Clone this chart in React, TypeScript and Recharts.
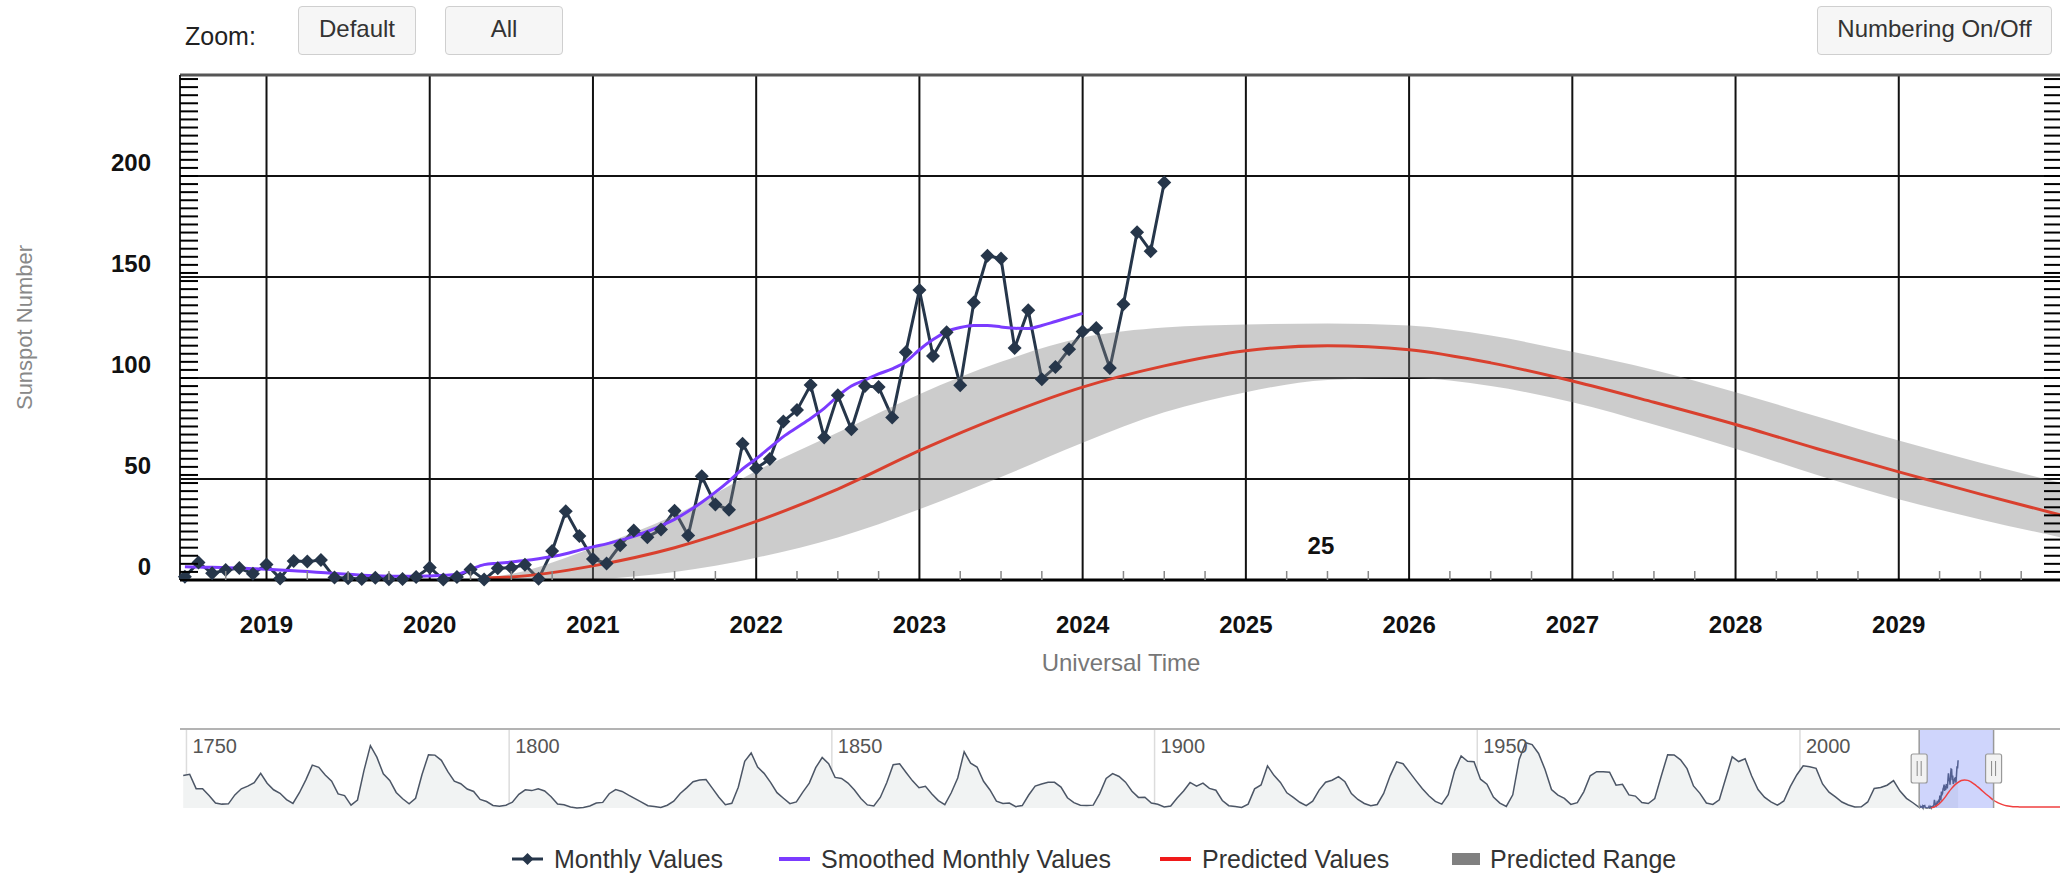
import React from "react";
import {
  ComposedChart,
  Line,
  Area,
  XAxis,
  YAxis,
  CartesianGrid,
  ReferenceLine,
  ReferenceDot,
  ReferenceArea,
  Label,
} from "recharts";

// monthly sunspot numbers, Jul 2018 .. Jul 2024
const monthlyStart = 2018.5;
const monthlyValues = [
  1.6, 8.7, 3.3, 4.9, 5.9, 3.1,
  7.7, 0.8, 9.4, 9.1, 9.9, 1.2, 0.9, 0.5, 1.1, 0.4, 0.5, 1.5,
  6.2, 0.2, 1.5, 5.2, 0.2, 5.8, 6.1, 7.5, 0.6, 14.4, 34.0, 21.8,
  10.4, 8.2, 17.2, 24.5, 21.2, 25.0, 34.3, 22.0, 51.3, 37.4, 34.8, 67.5,
  55.3, 59.9, 78.5, 84.1, 96.5, 70.5, 91.4, 74.6, 96.0, 95.5, 80.5, 112.8,
  143.6, 110.9, 122.6, 96.4, 137.4, 160.5, 159.1, 114.8, 133.6, 99.4, 105.4, 114.2,
  123.0, 124.7, 104.9, 136.5, 172.1, 162.8, 196.8,
];

// smoothed monthly values, Jul 2018 .. Jan 2024
const smoothedValues = [
  6.5, 6.4, 6.3, 6.1, 5.9, 5.6,
  5.3, 5.0, 4.6, 4.2, 3.7, 3.2, 2.8, 2.4, 2.1, 1.9, 1.8, 1.8,
  2.0, 2.3, 2.8, 5.2, 7.6, 8.3, 8.9, 9.6, 10.5, 11.6, 13.0, 14.8,
  16.4, 17.9, 19.6, 21.6, 24.0, 26.8, 30.0, 34.0, 38.5, 43.5, 49.0, 55.0,
  60.0, 65.5, 71.0, 75.5, 80.0, 85.0, 91.0, 96.0, 99.0, 102.0, 104.5, 108.0,
  114.0, 119.0, 123.0, 125.0, 126.0, 126.0, 125.3, 124.6, 124.5, 126.0, 128.0, 130.0,
  132.0,
];

// prediction, half-year steps
const predYears = [
  2020.33, 2020.5, 2021, 2021.5, 2022, 2022.5, 2023, 2023.5, 2024, 2024.5, 2025,
  2025.5, 2026, 2026.5, 2027, 2027.5, 2028, 2028.5, 2029, 2029.5, 2030,
];
const predictedValues = [
  1, 1.5, 7, 16, 29, 45, 64, 81, 95.5, 106, 113.5,
  116, 114, 107.5, 98.5, 88, 77, 65, 53.5, 42.5, 32,
];
const rangeLow = [
  0, 0, 0.5, 4, 11, 21, 35, 51, 68, 83, 93,
  99, 100, 96, 88, 77, 65, 52, 40, 30, 21,
];
const rangeHigh = [
  1, 3, 16, 32, 54, 73, 92, 108, 120, 125, 126.5,
  127, 126, 121, 113, 104, 93, 81, 69, 58, 48,
];
// prediction beyond the main window (navigator only)
const tailYears = [2030.5, 2031, 2031.5, 2032, 2032.5, 2033, 2034, 2035, 2036, 2037, 2038, 2039, 2040, 2040.5];
const tailValues = [24, 18, 13, 9.5, 7, 5.5, 4.5, 4, 4, 4, 4, 4, 4, 4];

// yearly mean sunspot number 1749 .. 2017 for the navigator
const historyStart = 1749;
const historyValues = [
  134.0,
  139.0, 79.8, 79.7, 51.2, 20.3, 16.0, 17.0, 54.0, 79.3, 90.0,
  104.8, 143.2, 102.0, 75.2, 60.7, 34.8, 19.0, 63.0, 116.3, 176.8,
  168.0, 136.0, 110.8, 58.0, 51.0, 11.7, 33.0, 154.2, 257.3, 209.8,
  141.3, 113.5, 64.2, 38.0, 17.0, 40.2, 138.2, 220.0, 218.2, 196.8,
  149.8, 111.0, 100.0, 78.2, 68.3, 35.5, 26.7, 10.7, 6.8, 11.3,
  24.2, 56.7, 75.0, 71.8, 79.2, 70.3, 46.8, 16.8, 13.5, 4.2,
  0.0, 2.3, 8.3, 20.3, 23.2, 59.0, 76.3, 68.3, 52.9, 38.5,
  24.2, 9.2, 6.3, 2.2, 11.4, 28.2, 59.9, 83.0, 108.5, 115.2,
  117.4, 80.8, 44.3, 13.4, 19.5, 85.8, 192.7, 227.3, 168.7, 143.0,
  105.5, 63.3, 40.3, 18.1, 25.1, 65.8, 102.7, 166.3, 208.3, 182.5,
  126.3, 122.0, 102.7, 74.1, 39.0, 12.7, 8.2, 43.4, 104.4, 178.3,
  182.2, 146.6, 112.1, 83.5, 89.2, 57.8, 30.7, 13.9, 62.8, 123.6,
  232.0, 185.3, 169.2, 110.1, 74.5, 28.3, 18.9, 20.7, 5.7, 10.0,
  53.7, 90.5, 99.0, 106.1, 105.8, 86.3, 42.4, 21.8, 11.2, 10.4,
  11.8, 59.5, 121.7, 142.0, 130.0, 106.6, 69.4, 43.8, 44.4, 20.2,
  15.7, 4.6, 8.5, 40.8, 70.1, 105.5, 90.1, 102.8, 80.9, 73.2,
  30.9, 9.5, 6.0, 2.4, 16.1, 79.0, 95.0, 173.6, 134.6, 105.7,
  62.7, 43.5, 23.7, 9.7, 27.9, 74.0, 106.5, 114.7, 129.7, 108.2,
  59.4, 35.1, 18.6, 9.2, 14.6, 60.2, 132.8, 190.6, 182.6, 148.0,
  113.0, 79.2, 50.8, 27.1, 16.1, 55.3, 154.3, 214.7, 193.0, 190.7,
  118.9, 98.3, 45.0, 20.1, 6.6, 54.2, 200.7, 269.3, 261.7, 225.1,
  159.0, 76.4, 53.4, 39.9, 15.0, 22.0, 66.8, 132.9, 150.0, 149.4,
  148.0, 94.4, 97.6, 54.1, 49.2, 22.5, 18.4, 39.3, 131.0, 220.1,
  218.9, 198.9, 162.4, 91.0, 60.5, 20.6, 14.8, 33.9, 123.0, 211.1,
  191.8, 203.3, 133.0, 76.1, 44.9, 25.1, 11.6, 28.9, 88.3, 136.3,
  173.9, 170.4, 163.6, 99.3, 65.3, 45.8, 24.7, 12.6, 4.2, 4.8,
  24.9, 80.8, 84.5, 94.0, 113.3, 69.8, 39.8, 21.7,
];

const yearTicks = [2019, 2020, 2021, 2022, 2023, 2024, 2025, 2026, 2027, 2028, 2029];
const quarterTicks = Array.from({ length: 45 }, (_, i) => 2018.75 + i * 0.25);
const yLabelTicks = [0, 50, 100, 150, 200];
const yMinorTicks = Array.from({ length: 63 }, (_, i) => i * 4);
const yTicks = [...yMinorTicks, 50, 150].sort((a, b) => a - b);
const navTicks = [1750, 1800, 1850, 1900, 1950, 2000];

const X_DOMAIN: [number, number] = [2018.47, 2030];
const PLOT_W = 1882;

const monthlyData = monthlyValues.map((v, i) => ({ t: monthlyStart + i / 12, v }));
const smoothedData = smoothedValues.map((v, i) => ({ t: monthlyStart + i / 12, v }));
const predData = predYears.map((t, i) => ({ t, v: predictedValues[i] }));
const rangeData = predYears.map((t, i) => ({ t, r: [rangeLow[i], rangeHigh[i]] }));
const navPredData = [...predData, ...tailYears.map((t, i) => ({ t, v: tailValues[i] }))];
const navData = [
  ...historyValues.map((v, i) => ({ t: historyStart + i + 0.5, v })),
  ...monthlyData,
];

const DARK = "#26364a";

const Diamond = (p: any) => {
  const { cx, cy } = p;
  if (cx == null || cy == null) return <g />;
  const s = 7;
  return (
    <path
      d={`M${cx},${cy - s}L${cx + s},${cy}L${cx},${cy + s}L${cx - s},${cy}Z`}
      fill={DARK}
    />
  );
};

const YTick = (props: any) => {
  const { x, y, payload } = props;
  const v = payload.value;
  return (
    <g>
      {v % 4 === 0 && <line x1={x} x2={x + 18} y1={y} y2={y} stroke="#000" strokeWidth={2} />}
      {v % 4 === 0 && (
        <line x1={x + PLOT_W - 18} x2={x + PLOT_W} y1={y} y2={y} stroke="#000" strokeWidth={2} />
      )}
      {yLabelTicks.includes(v) && (
        <text x={x - 29} y={y - 5.5} textAnchor="end" fontSize={24} fontWeight="bold" fill="#111">
          {v}
        </text>
      )}
    </g>
  );
};

const XTick = (props: any) => {
  const { x, y, payload } = props;
  const v = payload.value;
  if (Number.isInteger(v)) {
    return (
      <text x={x} y={y + 53} textAnchor="middle" fontSize={24} fontWeight="bold" fill="#111">
        {v}
      </text>
    );
  }
  return <line x1={x} x2={x} y1={y} y2={y - 9} stroke="#888" strokeWidth={1.5} />;
};

const NavTick = (props: any) => {
  const { x, y, payload } = props;
  return (
    <text x={x + 6} y={y + 24} fontSize={20} fill="#555">
      {payload.value}
    </text>
  );
};

const YTitle = (props: any) => {
  const vb = props.viewBox || { y: 75, height: 505 };
  const cy = vb.y + vb.height / 2;
  return (
    <text
      x={24}
      y={cy}
      transform={`rotate(-90 24 ${cy})`}
      textAnchor="middle"
      dominantBaseline="central"
      fontSize={22}
      fill="#888"
    >
      Sunspot Number
    </text>
  );
};

const Handle = (props: any) => {
  const vb = props.viewBox || { x: 0, y: 0, height: 0 };
  const x = vb.x;
  const top = Math.min(vb.y, vb.y + (vb.height || 0));
  return (
    <g>
      <rect x={x - 8} y={top + 25} width={16} height={29} rx={2} fill="#f2f2f2" stroke="#999" strokeWidth={1.2} />
      <line x1={x - 2} x2={x - 2} y1={top + 32} y2={top + 47} stroke="#888" strokeWidth={1} />
      <line x1={x + 2} x2={x + 2} y1={top + 32} y2={top + 47} stroke="#888" strokeWidth={1} />
    </g>
  );
};

const btn: React.CSSProperties = {
  position: "absolute",
  top: 6,
  height: 49,
  boxSizing: "border-box",
  border: "1px solid #cfcfcf",
  borderRadius: 4,
  background: "#f6f6f6",
  color: "#333",
  fontSize: 24,
  display: "flex",
  alignItems: "center",
  justifyContent: "center",
  paddingBottom: 4,
};

const legendItem: React.CSSProperties = {
  position: "absolute",
  top: 842,
  height: 34,
  display: "flex",
  alignItems: "center",
  gap: 11,
  fontSize: 25,
  color: "#333",
  whiteSpace: "nowrap",
};

export default function App() {
  return (
    <div
      style={{
        position: "absolute",
        left: 0,
        top: 0,
        width: 2060,
        height: 873,
        overflow: "hidden",
        background: "#fff",
        fontFamily: '"Liberation Sans", Arial, sans-serif',
      }}
    >
      <div style={{ position: "absolute", left: 185, top: 22, fontSize: 25, color: "#222" }}>Zoom:</div>
      <div style={{ ...btn, left: 298, width: 118 }}>Default</div>
      <div style={{ ...btn, left: 445, width: 118 }}>All</div>
      <div style={{ ...btn, left: 1817, width: 235 }}>Numbering On/Off</div>

      <div style={{ position: "absolute", left: 0, top: 0 }}>
        <ComposedChart width={2080} height={700} margin={{ top: 75, right: 18, bottom: 0, left: 0 }}>
          <CartesianGrid
            xAxisId="x"
            yAxisId="y"
            verticalValues={yearTicks}
            horizontalValues={yLabelTicks}
            stroke="#111"
            strokeWidth={2}
          />
          <XAxis
            xAxisId="x"
            type="number"
            dataKey="t"
            domain={X_DOMAIN}
            ticks={quarterTicks}
            interval={0}
            height={120}
            tickSize={0}
            tickMargin={0}
            tickLine={false}
            axisLine={{ stroke: "#000", strokeWidth: 3 }}
            tick={XTick}
            label={{ value: "Universal Time", position: "insideTop", offset: 74, fill: "#777", fontSize: 24 }}
          />
          <YAxis
            yAxisId="y"
            width={180}
            domain={[0, 250]}
            ticks={yTicks}
            interval={0}
            tickSize={0}
            tickMargin={0}
            tickLine={false}
            axisLine={{ stroke: "#222", strokeWidth: 2 }}
            tick={YTick}
          >
            <Label content={<YTitle />} />
          </YAxis>
          <ReferenceLine xAxisId="x" yAxisId="y" y={250} stroke="#555" strokeWidth={3} />

          <Line
            xAxisId="x"
            yAxisId="y"
            data={monthlyData}
            dataKey="v"
            type="linear"
            stroke={DARK}
            strokeWidth={3}
            dot={Diamond}
            activeDot={false}
            isAnimationActive={false}
            zIndex={350}
          />
          <Area
            xAxisId="x"
            yAxisId="y"
            data={rangeData}
            dataKey="r"
            type="monotone"
            stroke="none"
            fill="rgb(128,128,128)"
            fillOpacity={0.4}
            activeDot={false}
            isAnimationActive={false}
            zIndex={380}
          />
          <Line
            xAxisId="x"
            yAxisId="y"
            data={smoothedData}
            dataKey="v"
            type="monotone"
            stroke="#7b3bff"
            strokeWidth={3}
            dot={false}
            activeDot={false}
            isAnimationActive={false}
          />
          <Line
            xAxisId="x"
            yAxisId="y"
            data={predData}
            dataKey="v"
            type="monotone"
            stroke="#d9402e"
            strokeWidth={3}
            dot={false}
            activeDot={false}
            isAnimationActive={false}
          />
          <ReferenceDot
            xAxisId="x"
            yAxisId="y"
            x={2025.46}
            y={17}
            r={0}
            fill="none"
            stroke="none"
            label={{ value: "25", position: "center", fontSize: 24, fontWeight: "bold", fill: "#111" }}
          />
        </ComposedChart>
      </div>

      <div style={{ position: "absolute", left: 0, top: 700 }}>
        <ComposedChart width={2080} height={120} margin={{ top: 28, right: 18, bottom: 12, left: 180 }}>
          <CartesianGrid verticalValues={navTicks} horizontal={false} stroke="#dcdcdc" strokeWidth={1.5} />
          <XAxis
            type="number"
            dataKey="t"
            orientation="top"
            height={1}
            domain={[1749, 2040.6]}
            ticks={navTicks}
            interval={0}
            tickSize={0}
            tickMargin={0}
            tickLine={false}
            axisLine={{ stroke: "#b3b3b3", strokeWidth: 2 }}
            tick={NavTick}
          />
          <YAxis hide domain={[0, 326]} />
          <Area
            data={navData}
            dataKey="v"
            type="linear"
            stroke="#4c5666"
            strokeWidth={1.5}
            fill="#f1f3f3"
            fillOpacity={1}
            dot={false}
            activeDot={false}
            isAnimationActive={false}
          />
          <Line
            data={navPredData}
            dataKey="v"
            type="monotone"
            stroke="#f04040"
            strokeWidth={1.5}
            dot={false}
            activeDot={false}
            isAnimationActive={false}
          />
          <ReferenceArea x1={X_DOMAIN[0]} x2={X_DOMAIN[1]} fill="rgb(95,115,245)" fillOpacity={0.3} stroke="none" />
          <ReferenceLine x={X_DOMAIN[0]} stroke="#999" strokeWidth={1.5} label={<Handle />} />
          <ReferenceLine x={X_DOMAIN[1]} stroke="#999" strokeWidth={1.5} label={<Handle />} />
        </ComposedChart>
      </div>

      <div style={{ ...legendItem, left: 512 }}>
        <svg width={31} height={16}>
          <line x1={0} x2={31} y1={8} y2={8} stroke={DARK} strokeWidth={3} />
          <path d="M15.5,2L21.5,8L15.5,14L9.5,8Z" fill={DARK} />
        </svg>
        <span>Monthly Values</span>
      </div>
      <div style={{ ...legendItem, left: 779 }}>
        <svg width={31} height={16}>
          <line x1={0} x2={31} y1={8} y2={8} stroke="#7b3bff" strokeWidth={4} />
        </svg>
        <span>Smoothed Monthly Values</span>
      </div>
      <div style={{ ...legendItem, left: 1160 }}>
        <svg width={31} height={16}>
          <line x1={0} x2={31} y1={8} y2={8} stroke="#f01a1a" strokeWidth={4} />
        </svg>
        <span>Predicted Values</span>
      </div>
      <div style={{ ...legendItem, left: 1452, gap: 10 }}>
        <svg width={28} height={16}>
          <rect x={0} y={2} width={28} height={12} fill="#808080" />
        </svg>
        <span>Predicted Range</span>
      </div>
    </div>
  );
}
